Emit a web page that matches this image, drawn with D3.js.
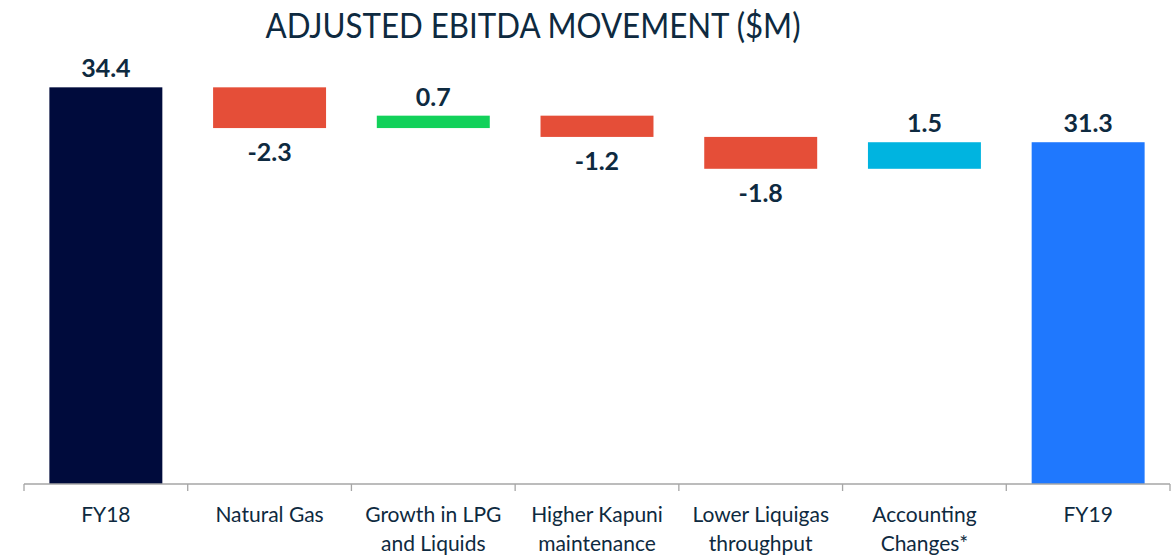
<!DOCTYPE html>
<html>
<head>
<meta charset="utf-8">
<script src="https://cdn.jsdelivr.net/npm/d3@7"></script>
<style>
    body { margin: 0; background: #fff; }
    svg text { font-family: Lato, "Open Sans", sans-serif; }
</style>
</head>
<body>
<div id="chart"></div>
<script>
// data
const categories = ["FY18", "Natural Gas", "Growth in LPG|and Liquids", "Higher Kapuni|maintenance",
    "Lower Liquigas|throughput", "Accounting|Changes*", "FY19"];
const changes = [34.4, -2.3, 0.7, -1.2, -1.8, 1.5, 31.3];
const kinds = ["total", "delta", "delta", "delta", "delta", "delta", "total"];
const colors = ["#000b3c", "#e54e38", "#12d15a", "#e54e38", "#e54e38", "#00b4e0", "#1f78fe"];
const yDomain = [12, 36];

const svg = { width: 1173, height: 555, margin: { top: 59, right: 3, bottom: 71, left: 24 } };
const textColor = "#0e2a40";

// build waterfall rows
let running = 0;
const rows = categories.map((c, i) => {
    let start, end;
    if (kinds[i] === "total") { start = yDomain[0]; end = changes[i]; running = changes[i]; }
    else { start = running; end = running + changes[i]; running = end; }
    return { cat: c, value: changes[i], start, end, color: colors[i], kind: kinds[i] };
});

const xScale = d3.scaleBand()
    .domain(categories)
    .range([svg.margin.left, svg.width - svg.margin.right])
    .paddingInner(0.31).paddingOuter(0.155);

const yScale = d3.scaleLinear()
    .domain(yDomain)
    .range([svg.height - svg.margin.bottom, svg.margin.top]);

const chart = d3.select("#chart").append("svg")
    .attr("width", svg.width).attr("height", svg.height);

chart.append("text")
    .attr("x", 533).attr("y", 38)
    .attr("text-anchor", "middle")
    .attr("fill", textColor)
    .attr("font-size", 34)
    .attr("font-weight", 400)
    .attr("textLength", 535)
    .attr("lengthAdjust", "spacingAndGlyphs")
    .text("ADJUSTED EBITDA MOVEMENT ($M)");

chart.append("g").attr("class", "marks")
    .selectAll("rect")
    .data(rows)
    .join("rect")
    .attr("x", d => xScale(d.cat))
    .attr("width", xScale.bandwidth())
    .attr("y", d => yScale(Math.max(d.start, d.end)))
    .attr("height", d => Math.abs(yScale(d.start) - yScale(d.end)))
    .attr("fill", d => d.color);

chart.append("g").attr("class", "labels")
    .selectAll("text")
    .data(rows)
    .join("text")
    .attr("x", d => xScale(d.cat) + xScale.bandwidth() / 2)
    .attr("y", d => d.value < 0 ? yScale(d.end) + 33 : yScale(d.end) - 10)
    .attr("text-anchor", "middle")
    .attr("font-size", 25)
    .attr("font-weight", 700)
    .attr("fill", textColor)
    .text(d => d.value.toFixed(1));

// x axis
const outer = d3.scaleBand().domain(categories).range([svg.margin.left, svg.width - svg.margin.right]);
const xAxis = chart.append("g")
    .attr("transform", `translate(0, ${svg.height - svg.margin.bottom})`);
xAxis.append("line")
    .attr("x1", svg.margin.left).attr("x2", svg.width - svg.margin.right)
    .attr("stroke", "#a6a6a6").attr("stroke-width", 1.3);
xAxis.selectAll("line.tick")
    .data(categories.concat([null]))
    .join("line")
    .attr("class", "tick")
    .attr("x1", d => d ? outer(d) : svg.width - svg.margin.right)
    .attr("x2", d => d ? outer(d) : svg.width - svg.margin.right)
    .attr("y1", 0).attr("y2", 7)
    .attr("stroke", "#a6a6a6").attr("stroke-width", 1.3);

xAxis.selectAll("text.cat")
    .data(categories)
    .join("text")
    .attr("class", "cat")
    .attr("x", d => xScale(d) + xScale.bandwidth() / 2)
    .attr("y", 38)
    .attr("text-anchor", "middle")
    .attr("font-size", 21)
    .attr("fill", textColor)
    .each(function(d) {
        d.split("|").forEach((line, i) => {
            d3.select(this).append("tspan")
                .attr("x", xScale(d) + xScale.bandwidth() / 2)
                .attr("dy", i === 0 ? 0 : 29)
                .text(line);
        });
    });
</script>
</body>
</html>
